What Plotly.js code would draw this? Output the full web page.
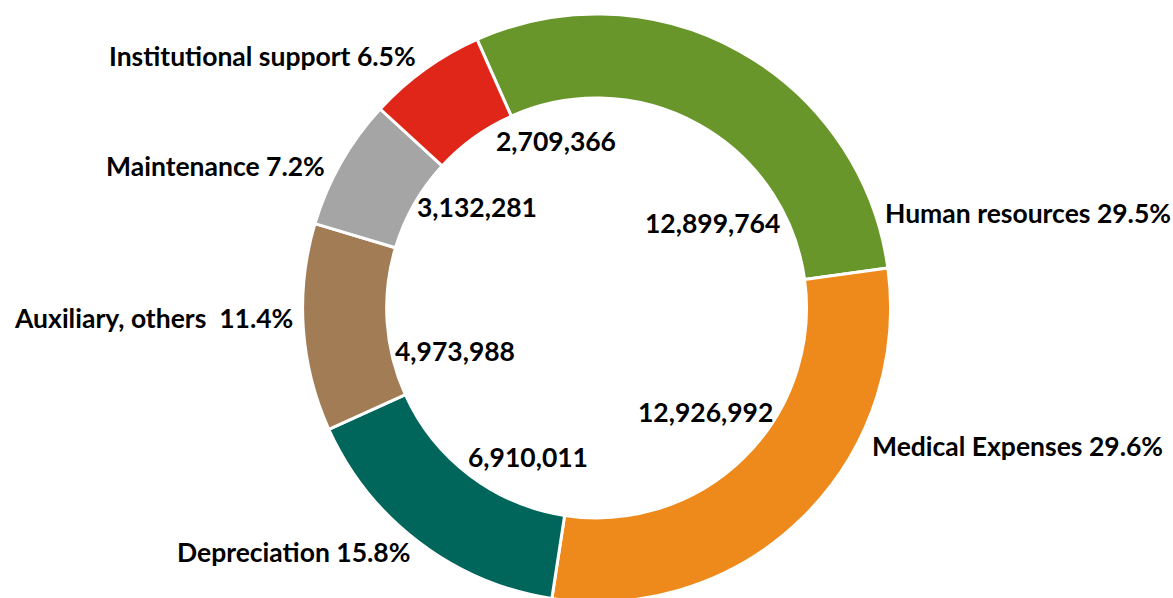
<!DOCTYPE html>
<html>
<head>
<meta charset="utf-8">
<script src="https://cdn.plot.ly/plotly-3.0.1.min.js"></script>
<style>
  html, body { margin: 0; padding: 0; background: #ffffff; }
  #wrap { width: 1173px; height: 598px; overflow: hidden; position: relative; }
  #chart { width: 1173px; height: 620px; position: absolute; left: 0; top: 0; }
</style>
</head>
<body>
<div id="wrap"><div id="chart"></div></div>
<script>
// ---- data ----
const categories = ['Human resources', 'Medical Expenses', 'Depreciation', 'Auxiliary, others', 'Maintenance', 'Institutional support'];
const shares = [29.5, 29.6, 15.8, 11.4, 7.2, 6.5];
const amounts = [12899764, 12926992, 6910011, 4973988, 3132281, 2709366];

// ---- styles ----
const colors = ['#69962A', '#EE8A1B', '#00665C', '#A27C55', '#A5A5A5', '#E02619'];
const W = 1173, H = 620;
const cx = 596.6, cy = 308, R = 294;
// label anchor positions in pixels (text placement only)
const labelPos = [
  {x: 883, y: 213, anchor: 'left'},
  {x: 870, y: 446, anchor: 'left'},
  {x: 412, y: 552, anchor: 'right'},
  {x: 295, y: 318, anchor: 'right'},
  {x: 327, y: 166, anchor: 'right'},
  {x: 418, y: 56, anchor: 'right'}
];
const amountPos = [
  {x: 712, y: 223},
  {x: 705, y: 412},
  {x: 528, y: 457},
  {x: 455, y: 351},
  {x: 477, y: 207},
  {x: 556, y: 141}
];

const font = {family: 'Lato, "Open Sans", sans-serif', size: 26.5, color: '#000000', weight: 700};

const annotations = [];
categories.forEach((c, i) => {
  const sep = c === 'Auxiliary, others' ? '&nbsp; ' : ' ';
  annotations.push({
    xref: 'paper', yref: 'paper',
    x: labelPos[i].x / W, y: 1 - labelPos[i].y / H,
    xanchor: labelPos[i].anchor, yanchor: 'middle',
    text: '<b>' + c + sep + shares[i].toFixed(1) + '%</b>',
    showarrow: false, font: font
  });
  annotations.push({
    xref: 'paper', yref: 'paper',
    x: amountPos[i].x / W, y: 1 - amountPos[i].y / H,
    xanchor: 'center', yanchor: 'middle',
    text: '<b>' + amounts[i].toLocaleString('en-US') + '</b>',
    showarrow: false, font: font
  });
});

const trace = {
  type: 'pie',
  labels: categories,
  values: shares,
  sort: false,
  direction: 'clockwise',
  rotation: -24,
  hole: 0.714,
  textinfo: 'none',
  hoverinfo: 'label+value',
  marker: {colors: colors, line: {color: '#ffffff', width: 3}},
  domain: {x: [(cx - R) / W, (cx + R) / W], y: [1 - (cy + R) / H, 1 - (cy - R) / H]},
  showlegend: false
};

const layout = {
  width: W, height: H,
  margin: {l: 0, r: 0, t: 0, b: 0},
  paper_bgcolor: '#ffffff',
  showlegend: false,
  annotations: annotations
};

Plotly.newPlot('chart', [trace], layout, {displayModeBar: false, staticPlot: true});
</script>
</body>
</html>
